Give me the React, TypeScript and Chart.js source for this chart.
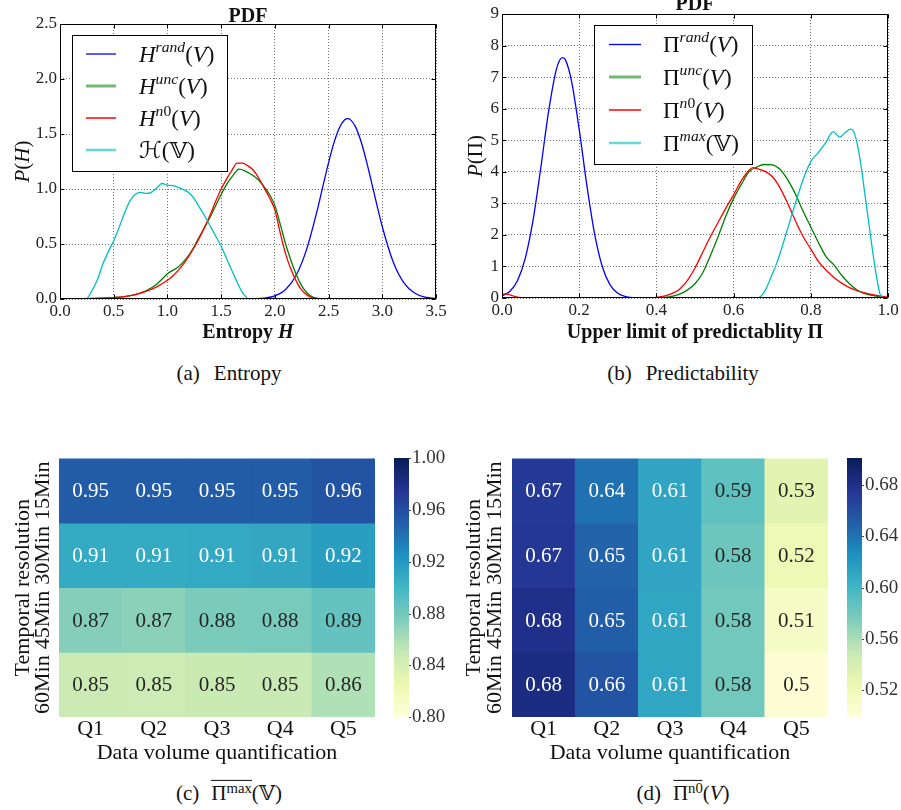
import React, { useEffect, useRef } from "react";
import { Chart, registerables } from "chart.js";

Chart.register(...registerables);

const FONT = '"Liberation Serif", "DejaVu Serif", "DejaVu Sans", serif';
const INK = "#111111";
const GRID = "rgba(0,0,0,0.55)";

type Seg = { t: string; i?: boolean; b?: boolean; sup?: boolean };

// ---------------- panel (a): entropy PDFs ----------------
const ENTROPY_X_TICKS = [0, 0.5, 1, 1.5, 2, 2.5, 3, 3.5];
const ENTROPY_Y_TICKS = [0, 0.5, 1, 1.5, 2, 2.5];

const H_RAND: number[][] = [
  [1.0, 0], [1.5, 0], [1.6, 0.0001], [1.7, 0.0004], [1.8, 0.002], [1.9, 0.008],
  [2.0, 0.028], [2.1, 0.086], [2.2, 0.218], [2.3, 0.465], [2.4, 0.829], [2.45, 1.037],
  [2.5, 1.24], [2.55, 1.419], [2.6, 1.554], [2.65, 1.629], [2.68, 1.64], [2.7, 1.633],
  [2.75, 1.567], [2.8, 1.438], [2.85, 1.263], [2.9, 1.061], [2.95, 0.854], [3.0, 0.657],
  [3.1, 0.341], [3.2, 0.148], [3.3, 0.054], [3.4, 0.016], [3.5, 0.004],
];
const H_UNC: number[][] = [
  [0, 0], [0.2, 0.003], [0.4, 0.008], [0.5, 0.013], [0.6, 0.022], [0.7, 0.04],
  [0.8, 0.075], [0.9, 0.135], [0.97, 0.2], [1.0, 0.23], [1.05, 0.26], [1.1, 0.29],
  [1.15, 0.34], [1.2, 0.4], [1.25, 0.48], [1.3, 0.57], [1.35, 0.66], [1.4, 0.75],
  [1.45, 0.85], [1.5, 0.95], [1.55, 1.04], [1.6, 1.11], [1.67, 1.18], [1.72, 1.165],
  [1.8, 1.12], [1.85, 1.08], [1.9, 1.02], [1.95, 0.95], [2.0, 0.85], [2.05, 0.68],
  [2.1, 0.5], [2.15, 0.35], [2.2, 0.22], [2.25, 0.12], [2.3, 0.055], [2.35, 0.02],
  [2.4, 0.006], [2.45, 0], [3.5, 0],
];
const H_N0: number[][] = [
  [0, 0], [0.2, 0.003], [0.4, 0.008], [0.5, 0.013], [0.6, 0.022], [0.7, 0.04],
  [0.8, 0.07], [0.9, 0.11], [1.0, 0.17], [1.05, 0.21], [1.1, 0.26], [1.15, 0.32],
  [1.2, 0.39], [1.25, 0.47], [1.3, 0.56], [1.35, 0.66], [1.4, 0.77], [1.45, 0.89],
  [1.5, 1.0], [1.55, 1.09], [1.6, 1.17], [1.65, 1.235], [1.7, 1.235], [1.75, 1.21],
  [1.8, 1.17], [1.85, 1.1], [1.9, 1.01], [1.95, 0.92], [2.0, 0.81], [2.05, 0.6],
  [2.1, 0.41], [2.15, 0.27], [2.2, 0.16], [2.25, 0.08], [2.3, 0.035], [2.35, 0.01],
  [2.4, 0], [3.5, 0],
];
const H_MAX: number[][] = [
  [0, 0], [0.24, 0], [0.3, 0.08], [0.35, 0.18], [0.4, 0.32], [0.45, 0.43],
  [0.5, 0.53], [0.55, 0.65], [0.6, 0.78], [0.65, 0.89], [0.7, 0.95], [0.75, 0.97],
  [0.8, 0.96], [0.85, 0.97], [0.9, 1.01], [0.95, 1.05], [1.0, 1.035], [1.05, 1.03],
  [1.1, 1.015], [1.15, 0.995], [1.2, 0.965], [1.25, 0.91], [1.3, 0.83], [1.35, 0.75],
  [1.4, 0.66], [1.45, 0.57], [1.5, 0.48], [1.55, 0.37], [1.6, 0.26], [1.65, 0.15],
  [1.7, 0.055], [1.75, 0],
];

// ---------------- panel (b): predictability PDFs ----------------
const PRED_X_TICKS = [0, 0.2, 0.4, 0.6, 0.8, 1.0];
const PRED_Y_TICKS = [0, 1, 2, 3, 4, 5, 6, 7, 8, 9];

const PI_RAND: number[][] = [
  [0, 0.067], [0.02, 0.207], [0.04, 0.549], [0.06, 1.248], [0.08, 2.438], [0.1, 4.081],
  [0.12, 5.857], [0.14, 7.208], [0.15, 7.55], [0.157, 7.62], [0.165, 7.53], [0.18, 6.883],
  [0.2, 5.341], [0.22, 3.553], [0.24, 2.027], [0.26, 0.992], [0.28, 0.416], [0.3, 0.149],
  [0.32, 0.046], [0.34, 0.012], [0.36, 0.003], [0.4, 0], [1.0, 0],
];
const PI_UNC: number[][] = [
  [0, 0], [0.4, 0], [0.42, 0.02], [0.44, 0.05], [0.46, 0.12], [0.48, 0.25], [0.5, 0.45],
  [0.52, 0.8], [0.54, 1.35], [0.56, 1.95], [0.58, 2.6], [0.6, 3.15], [0.62, 3.6],
  [0.64, 4.0], [0.66, 4.15], [0.68, 4.23], [0.7, 4.22], [0.72, 4.08], [0.74, 3.75],
  [0.76, 3.3], [0.78, 2.75], [0.8, 2.25], [0.82, 1.75], [0.84, 1.3], [0.86, 1.05],
  [0.88, 0.72], [0.9, 0.45], [0.92, 0.25], [0.94, 0.14], [0.96, 0.08], [0.98, 0.03], [1.0, 0],
];
const PI_N0: number[][] = [
  [0, 0.12], [0.01, 0.13], [0.02, 0.1], [0.04, 0.03], [0.06, 0], [0.38, 0], [0.4, 0.02],
  [0.42, 0.06], [0.44, 0.14], [0.46, 0.28], [0.48, 0.55], [0.5, 0.95], [0.52, 1.45],
  [0.54, 1.95], [0.56, 2.4], [0.58, 2.85], [0.6, 3.27], [0.62, 3.72], [0.64, 4.05],
  [0.65, 4.13], [0.66, 4.1], [0.68, 4.02], [0.7, 3.85], [0.72, 3.5], [0.74, 3.0],
  [0.76, 2.45], [0.78, 1.95], [0.8, 1.55], [0.82, 1.15], [0.84, 0.88], [0.86, 0.65],
  [0.88, 0.47], [0.9, 0.33], [0.92, 0.23], [0.94, 0.16], [0.96, 0.11], [0.98, 0.06], [1.0, 0.02],
];
const PI_MAX: number[][] = [
  [0, 0], [0.64, 0], [0.66, 0], [0.67, 0.05], [0.68, 0.2], [0.69, 0.45], [0.7, 0.75],
  [0.71, 1.05], [0.72, 1.4], [0.74, 2.2], [0.76, 3.0], [0.78, 3.75], [0.8, 4.32],
  [0.82, 4.62], [0.84, 4.95], [0.858, 5.27], [0.875, 5.1], [0.89, 5.25], [0.902, 5.35],
  [0.91, 5.3], [0.92, 4.9], [0.93, 4.2], [0.94, 3.3], [0.95, 2.4], [0.96, 1.5],
  [0.97, 0.7], [0.98, 0.1], [0.99, 0], [1.0, 0],
];

// ---------------- panels (c) and (d): heatmaps ----------------
const QUANTILES = ["Q1", "Q2", "Q3", "Q4", "Q5"];
const RESOLUTIONS = ["15Min", "30Min", "45Min", "60Min"];

const PMAX_15MIN = [0.952, 0.951, 0.951, 0.952, 0.956];
const PMAX_30MIN = [0.908, 0.908, 0.909, 0.91, 0.916];
const PMAX_45MIN = [0.873, 0.871, 0.877, 0.878, 0.886];
const PMAX_60MIN = [0.847, 0.846, 0.848, 0.849, 0.858];
const PMAX_RANGE = [0.8, 1.0];
const PMAX_CB_TICKS = [0.8, 0.84, 0.88, 0.92, 0.96, 1.0];

const PN0_15MIN = [0.673, 0.641, 0.612, 0.588, 0.531];
const PN0_30MIN = [0.674, 0.648, 0.612, 0.582, 0.521];
const PN0_45MIN = [0.68, 0.651, 0.611, 0.58, 0.511];
const PN0_60MIN = [0.684, 0.657, 0.611, 0.58, 0.502];
const PN0_RANGE = [0.499, 0.701];
const PN0_CB_TICKS = [0.52, 0.56, 0.6, 0.64, 0.68];

const YLGNBU = ["#ffffd9", "#edf8b1", "#c7e9b4", "#7fcdbb", "#41b6c4", "#1d91c0", "#225ea8", "#253494", "#081d58"];

// ---------------- helpers ----------------
function hexRgb(h: string) {
  return [parseInt(h.slice(1, 3), 16), parseInt(h.slice(3, 5), 16), parseInt(h.slice(5, 7), 16)];
}
function cmapRgb(t: number) {
  const n = YLGNBU.length;
  const c = Math.max(0, Math.min(1, t));
  const p = c * (n - 1);
  const i = Math.min(Math.floor(p), n - 2);
  const f = p - i;
  const a = hexRgb(YLGNBU[i]);
  const b = hexRgb(YLGNBU[i + 1]);
  return [0, 1, 2].map((k) => a[k] + (b[k] - a[k]) * f);
}
function rgbCss(c: number[]) {
  return `rgb(${Math.round(c[0])},${Math.round(c[1])},${Math.round(c[2])})`;
}
function luminance(c: number[]) {
  const lin = c.map((v) => {
    const s = v / 255;
    return s <= 0.03928 ? s / 12.92 : Math.pow((s + 0.055) / 1.055, 2.4);
  });
  return 0.2126 * lin[0] + 0.7152 * lin[1] + 0.0722 * lin[2];
}
function fmt2g(v: number) {
  return String(Number(v.toPrecision(2)));
}

function segFont(s: Seg, size: number) {
  const sz = s.sup ? size * 0.68 : size;
  return `${s.i ? "italic " : ""}${s.b ? "bold " : ""}${sz}px ${FONT}`;
}
function richWidth(ctx: CanvasRenderingContext2D, segs: Seg[], size: number) {
  let w = 0;
  for (const s of segs) {
    ctx.font = segFont(s, size);
    w += ctx.measureText(s.t).width;
  }
  return w;
}
function drawRich(ctx: CanvasRenderingContext2D, segs: Seg[], x: number, cy: number, size: number, align: "left" | "center") {
  let cx = align === "center" ? x - richWidth(ctx, segs, size) / 2 : x;
  const base = cy + 0.33 * size;
  ctx.textBaseline = "alphabetic";
  ctx.textAlign = "left";
  for (const s of segs) {
    ctx.font = segFont(s, size);
    ctx.fillText(s.t, cx, s.sup ? base - size * 0.42 : base);
    cx += ctx.measureText(s.t).width;
  }
}

// ---------------- line panels ----------------
interface Series {
  label: string;
  segs: Seg[];
  color: string;
  legendColor: string;
  legendWidth: number;
  points: number[][];
}
interface LinePanel {
  series: Series[];
  xRange: number[];
  yRange: number[];
  xTicks: number[];
  yTicks: number[];
  xFmt: (v: number) => string;
  yFmt: (v: number) => string;
  areaLeft: number;
  areaTop: number;
  padRight: number;
  xAxisH: number;
  title: string;
  titleGap: number;
  xTitle: Seg[];
  xTitleY: number;
  yTitle: Seg[];
  yTitleX: number;
  legend: { x: number; y: number; w: number; h: number; rows: number[]; lx0: number; lx1: number; tx: number };
}

const PANEL_A: LinePanel = {
  series: [
    { label: "H^rand(V)", color: "#0000ff", legendColor: "#0000ff", legendWidth: 1.3, points: H_RAND, segs: [{ t: "H", i: true }, { t: "rand", i: true, sup: true }, { t: "(" }, { t: "V", i: true }, { t: ")" }] },
    { label: "H^unc(V)", color: "#008000", legendColor: "rgba(0,128,0,0.55)", legendWidth: 3, points: H_UNC, segs: [{ t: "H", i: true }, { t: "unc", i: true, sup: true }, { t: "(" }, { t: "V", i: true }, { t: ")" }] },
    { label: "H^n0(V)", color: "#ff0000", legendColor: "#ff0000", legendWidth: 1.5, points: H_N0, segs: [{ t: "H", i: true }, { t: "n", i: true, sup: true }, { t: "0", sup: true }, { t: "(" }, { t: "V", i: true }, { t: ")" }] },
    { label: "ℋ(𝕍)", color: "#00bfbf", legendColor: "rgba(0,191,191,0.6)", legendWidth: 2.5, points: H_MAX, segs: [{ t: "ℋ" }, { t: "(" }, { t: "𝕍" }, { t: ")" }] },
  ],
  xRange: [0, 3.5],
  yRange: [0, 2.5],
  xTicks: ENTROPY_X_TICKS,
  yTicks: ENTROPY_Y_TICKS,
  xFmt: (v) => v.toFixed(1),
  yFmt: (v) => v.toFixed(1),
  areaLeft: 60,
  areaTop: 24,
  padRight: 14,
  xAxisH: 46,
  title: "PDF",
  titleGap: 9,
  xTitle: [{ t: "Entropy ", b: true }, { t: "H", b: true, i: true }],
  xTitleY: 331,
  yTitle: [{ t: "P", i: true }, { t: "(" }, { t: "H", i: true }, { t: ")" }],
  yTitleX: 22.5,
  legend: { x: 72, y: 35, w: 155, h: 136, rows: [19, 51, 83, 115], lx0: 14, lx1: 44, tx: 67 },
};

const PANEL_B: LinePanel = {
  series: [
    { label: "Π^rand(V)", color: "#0000ff", legendColor: "#0000ff", legendWidth: 1.3, points: PI_RAND, segs: [{ t: "Π" }, { t: "rand", i: true, sup: true }, { t: "(" }, { t: "V", i: true }, { t: ")" }] },
    { label: "Π^unc(V)", color: "#008000", legendColor: "rgba(0,128,0,0.55)", legendWidth: 3, points: PI_UNC, segs: [{ t: "Π" }, { t: "unc", i: true, sup: true }, { t: "(" }, { t: "V", i: true }, { t: ")" }] },
    { label: "Π^n0(V)", color: "#ff0000", legendColor: "#ff0000", legendWidth: 1.5, points: PI_N0, segs: [{ t: "Π" }, { t: "n", i: true, sup: true }, { t: "0", sup: true }, { t: "(" }, { t: "V", i: true }, { t: ")" }] },
    { label: "Π^max(𝕍)", color: "#00bfbf", legendColor: "rgba(0,191,191,0.6)", legendWidth: 2.5, points: PI_MAX, segs: [{ t: "Π" }, { t: "max", i: true, sup: true }, { t: "(" }, { t: "𝕍" }, { t: ")" }] },
  ],
  xRange: [0, 1],
  yRange: [0, 9],
  xTicks: PRED_X_TICKS,
  yTicks: PRED_Y_TICKS,
  xFmt: (v) => v.toFixed(1),
  yFmt: (v) => String(v),
  areaLeft: 52,
  areaTop: 14,
  padRight: 13,
  xAxisH: 47,
  title: "PDF",
  titleGap: 10.5,
  xTitle: [{ t: "Upper limit of predictablity Π", b: true }],
  xTitleY: 331,
  yTitle: [{ t: "P", i: true }, { t: "(" }, { t: "Π" }, { t: ")" }],
  yTitleX: 25,
  legend: { x: 144, y: 25, w: 158, h: 139, rows: [19.5, 52, 85, 118], lx0: 15, lx1: 47, tx: 69 },
};

const framePlugin = {
  id: "frame",
  afterDatasetsDraw(chart: any) {
    const { ctx, chartArea: a } = chart;
    const L = Math.round(a.left) + 0.5;
    const T = Math.round(a.top) + 0.5;
    const R = Math.round(a.right) - 0.5;
    const B = Math.round(a.bottom) - 0.5;
    ctx.save();
    ctx.strokeStyle = "#000";
    ctx.lineWidth = 1;
    ctx.strokeRect(L, T, R - L, B - T);
    ctx.beginPath();
    chart.scales.x.ticks.forEach((t: any) => {
      const px = Math.round(chart.scales.x.getPixelForValue(t.value)) + 0.5;
      ctx.moveTo(px, B);
      ctx.lineTo(px, B - 4);
      ctx.moveTo(px, T);
      ctx.lineTo(px, T + 4);
    });
    chart.scales.y.ticks.forEach((t: any) => {
      const py = Math.round(chart.scales.y.getPixelForValue(t.value)) + 0.5;
      ctx.moveTo(L, py);
      ctx.lineTo(L + 4, py);
      ctx.moveTo(R, py);
      ctx.lineTo(R - 4, py);
    });
    ctx.stroke();
    ctx.restore();
  },
};

function makeLineDeco(p: LinePanel) {
  return {
    id: "lineDeco",
    afterDraw(chart: any) {
      const { ctx, chartArea: a } = chart;
      ctx.save();
      ctx.fillStyle = INK;
      drawRich(ctx, [{ t: p.title, b: true }], (a.left + a.right) / 2, a.top - p.titleGap, 20, "center");
      drawRich(ctx, p.xTitle, (a.left + a.right) / 2, p.xTitleY, 20, "center");
      ctx.save();
      ctx.translate(p.yTitleX, (a.top + a.bottom) / 2);
      ctx.rotate(-Math.PI / 2);
      drawRich(ctx, p.yTitle, 0, 0, 21, "center");
      ctx.restore();
      const L = p.legend;
      ctx.fillStyle = "#fff";
      ctx.fillRect(L.x, L.y, L.w, L.h);
      ctx.strokeStyle = "#000";
      ctx.lineWidth = 1;
      ctx.strokeRect(L.x + 0.5, L.y + 0.5, L.w, L.h);
      p.series.forEach((s, i) => {
        const y = L.y + L.rows[i];
        ctx.strokeStyle = s.legendColor;
        ctx.lineWidth = s.legendWidth;
        ctx.beginPath();
        ctx.moveTo(L.x + L.lx0, y);
        ctx.lineTo(L.x + L.lx1, y);
        ctx.stroke();
        ctx.fillStyle = INK;
        drawRich(ctx, s.segs, L.x + L.tx, y, 23, "left");
      });
      ctx.restore();
    },
  };
}

function buildLine(p: LinePanel): any {
  const n = p.series.length;
  return {
    type: "line",
    data: {
      datasets: p.series.map((s, i) => ({
        label: s.label,
        data: s.points.map(([x, y]) => ({ x, y })),
        borderColor: s.color,
        borderWidth: 1.3,
        pointRadius: 0,
        fill: false,
        cubicInterpolationMode: "monotone",
        order: n - i,
      })),
    },
    options: {
      animation: false,
      responsive: false,
      events: [],
      layout: { padding: { left: 0, top: p.areaTop, right: p.padRight, bottom: 0 } },
      plugins: { legend: { display: false }, tooltip: { enabled: false }, title: { display: false } },
      scales: {
        x: {
          type: "linear",
          min: p.xRange[0],
          max: p.xRange[1],
          afterBuildTicks: (s: any) => {
            s.ticks = p.xTicks.map((v) => ({ value: v }));
          },
          ticks: { callback: (v: any) => p.xFmt(Number(v)), font: { family: FONT, size: 17 }, color: "#222", padding: 2, maxRotation: 0, autoSkip: false },
          grid: { color: GRID, lineWidth: 1, drawTicks: false },
          border: { display: false, dash: [1, 2] },
          afterFit: (s: any) => {
            s.height = p.xAxisH;
          },
        },
        y: {
          type: "linear",
          min: p.yRange[0],
          max: p.yRange[1],
          afterBuildTicks: (s: any) => {
            s.ticks = p.yTicks.map((v) => ({ value: v }));
          },
          ticks: { callback: (v: any) => p.yFmt(Number(v)), font: { family: FONT, size: 17 }, color: "#222", padding: 3, autoSkip: false },
          grid: { color: GRID, lineWidth: 1, drawTicks: false },
          border: { display: false, dash: [1, 2] },
          afterFit: (s: any) => {
            s.width = p.areaLeft;
          },
        },
      },
    },
    plugins: [framePlugin, makeLineDeco(p)],
  };
}

// ---------------- heatmap panels ----------------
interface HeatPanel {
  grid: number[][];
  range: number[];
  cbTicks: number[];
  areaLeft: number;
  areaTop: number;
  xAxisH: number;
  cbW: number;
  rowPad: number;
  rowTitlePad: number;
}

const PANEL_C: HeatPanel = {
  grid: [PMAX_15MIN, PMAX_30MIN, PMAX_45MIN, PMAX_60MIN],
  range: PMAX_RANGE,
  cbTicks: PMAX_CB_TICKS,
  areaLeft: 59,
  areaTop: 17,
  xAxisH: 53,
  cbW: 75,
  rowPad: -14,
  rowTitlePad: 9.8,
};
const PANEL_D: HeatPanel = {
  grid: [PN0_15MIN, PN0_30MIN, PN0_45MIN, PN0_60MIN],
  range: PN0_RANGE,
  cbTicks: PN0_CB_TICKS,
  areaLeft: 62,
  areaTop: 17,
  xAxisH: 53,
  cbW: 73,
  rowPad: -12.5,
  rowTitlePad: 10.8,
};

function makeHeatDeco(p: HeatPanel) {
  const norm = (v: number) => (v - p.range[0]) / (p.range[1] - p.range[0]);
  return {
    id: "heatDeco",
    afterDatasetsDraw(chart: any) {
      const { ctx } = chart;
      const a = chart.chartArea;
      ctx.save();
      ctx.font = `21px ${FONT}`;
      ctx.textAlign = "center";
      ctx.textBaseline = "middle";
      chart.data.datasets.forEach((_: any, i: number) => {
        const meta = chart.getDatasetMeta(i);
        meta.data.forEach((el: any, j: number) => {
          const { x, y, base } = el.getProps(["x", "y", "base"], true);
          const v = p.grid[i][j];
          ctx.fillStyle = luminance(cmapRgb(norm(v))) > 0.408 ? "#262626" : "#ffffff";
          ctx.fillText(fmt2g(v), x, (y + base) / 2 + 1);
        });
      });
      const s = chart.scales.cb;
      const x0 = Math.round(a.right) + 19;
      const w = 15;
      for (let py = Math.round(a.top); py < Math.round(a.bottom); py++) {
        const v = s.getValueForPixel(py + 0.5);
        ctx.fillStyle = rgbCss(cmapRgb(norm(v)));
        ctx.fillRect(x0, py, w, 1);
      }
      ctx.fillStyle = "#444";
      p.cbTicks.forEach((v) => {
        const py = Math.round(s.getPixelForValue(v));
        ctx.fillRect(x0 + w, py, 2, 1);
      });
      ctx.restore();
    },
  };
}

function buildHeat(p: HeatPanel): any {
  const nRows = RESOLUTIONS.length;
  const norm = (v: number) => (v - p.range[0]) / (p.range[1] - p.range[0]);
  return {
    type: "bar",
    data: {
      labels: QUANTILES,
      datasets: RESOLUTIONS.map((row, i) => ({
        label: row,
        data: p.grid[i].map(() => [nRows - 1 - i, nRows - i]),
        backgroundColor: p.grid[i].map((v) => rgbCss(cmapRgb(norm(v)))),
        borderWidth: 0,
        barPercentage: 1,
        categoryPercentage: 1,
        grouped: false,
        yAxisID: "y",
      })),
    },
    options: {
      animation: false,
      responsive: false,
      events: [],
      layout: { padding: { left: 0, top: p.areaTop, right: 0, bottom: 0 } },
      plugins: { legend: { display: false }, tooltip: { enabled: false }, title: { display: false } },
      scales: {
        x: {
          type: "category",
          grid: { display: false, drawTicks: false },
          border: { display: false },
          ticks: { font: { family: FONT, size: 22 }, color: INK, padding: -0.5, maxRotation: 0, autoSkip: false },
          title: { display: true, text: "Data volume quantification", font: { family: FONT, size: 22 }, color: INK, padding: { top: 0, bottom: 4 } },
          afterFit: (s: any) => {
            s.height = p.xAxisH;
          },
        },
        y: {
          type: "linear",
          position: "left",
          min: 0,
          max: nRows,
          bounds: "data",
          grid: { display: false, drawTicks: false },
          border: { display: false },
          afterBuildTicks: (s: any) => {
            s.ticks = RESOLUTIONS.map((_, i) => ({ value: nRows - 0.5 - i }));
          },
          ticks: {
            autoSkip: false,
            minRotation: 90,
            maxRotation: 90,
            crossAlign: "center",
            padding: p.rowPad,
            font: { family: FONT, size: 22 },
            color: INK,
            callback: (v: any) => RESOLUTIONS[Math.round(nRows - 0.5 - Number(v))],
          },
          title: { display: true, text: "Temporal resolution", font: { family: FONT, size: 22 }, color: INK, padding: { top: p.rowTitlePad, bottom: 0 } },
          afterFit: (s: any) => {
            s.width = p.areaLeft;
          },
        },
        cb: {
          type: "linear",
          position: "right",
          min: p.range[0],
          max: p.range[1],
          bounds: "data",
          grid: { display: false, drawTicks: false },
          border: { display: false },
          afterBuildTicks: (s: any) => {
            s.ticks = p.cbTicks.map((v) => ({ value: v }));
          },
          ticks: { autoSkip: false, padding: 37, font: { family: FONT, size: 19 }, color: "#333", callback: (v: any) => Number(v).toFixed(2) },
          afterFit: (s: any) => {
            s.width = p.cbW;
          },
        },
      },
    },
    plugins: [makeHeatDeco(p)],
  };
}

// ---------------- React ----------------
function ChartBox({ left, top, width, height, build }: { left: number; top: number; width: number; height: number; build: () => any }) {
  const ref = useRef<HTMLCanvasElement>(null);
  useEffect(() => {
    const chart = new Chart(ref.current as HTMLCanvasElement, build());
    return () => chart.destroy();
  }, []);
  return (
    <div style={{ position: "absolute", left, top, width, height }}>
      <canvas ref={ref} width={width} height={height} style={{ display: "block", width, height }} />
    </div>
  );
}

const capStyle = (x: number, y: number): React.CSSProperties => ({
  position: "absolute",
  left: x,
  top: y,
  transform: "translate(-50%, -50%)",
  fontFamily: FONT,
  fontSize: 21,
  color: INK,
  whiteSpace: "nowrap",
  lineHeight: 1.2,
});
const overline: React.CSSProperties = { display: "inline-block", borderTop: "1px solid #111", lineHeight: 1.05, paddingTop: 1 };
const supStyle: React.CSSProperties = { fontSize: "0.7em", verticalAlign: "0.5em", lineHeight: 0 };

export default function App() {
  return (
    <div style={{ position: "absolute", left: 0, top: 0, width: 901, height: 810, background: "#fff", overflow: "hidden" }}>
      <ChartBox left={0} top={0} width={450} height={345} build={() => buildLine(PANEL_A)} />
      <ChartBox left={450} top={0} width={451} height={345} build={() => buildLine(PANEL_B)} />
      <ChartBox left={0} top={410} width={450} height={360} build={() => buildHeat(PANEL_C)} />
      <ChartBox left={450} top={410} width={451} height={360} build={() => buildHeat(PANEL_D)} />
      <div style={capStyle(229, 374)}>
        <span style={{ marginRight: 14 }}>(a)</span>Entropy
      </div>
      <div style={capStyle(683, 374)}>
        <span style={{ marginRight: 14 }}>(b)</span>Predictability
      </div>
      <div style={capStyle(229, 793)}>
        <span style={{ marginRight: 12 }}>(c)</span>
        <span style={overline}>
          Π<span style={supStyle}>max</span>
        </span>
        (𝕍)
      </div>
      <div style={capStyle(683, 793)}>
        <span style={{ marginRight: 12 }}>(d)</span>
        <span style={overline}>
          Π<span style={supStyle}>n0</span>
        </span>
        (<i>V</i>)
      </div>
    </div>
  );
}
